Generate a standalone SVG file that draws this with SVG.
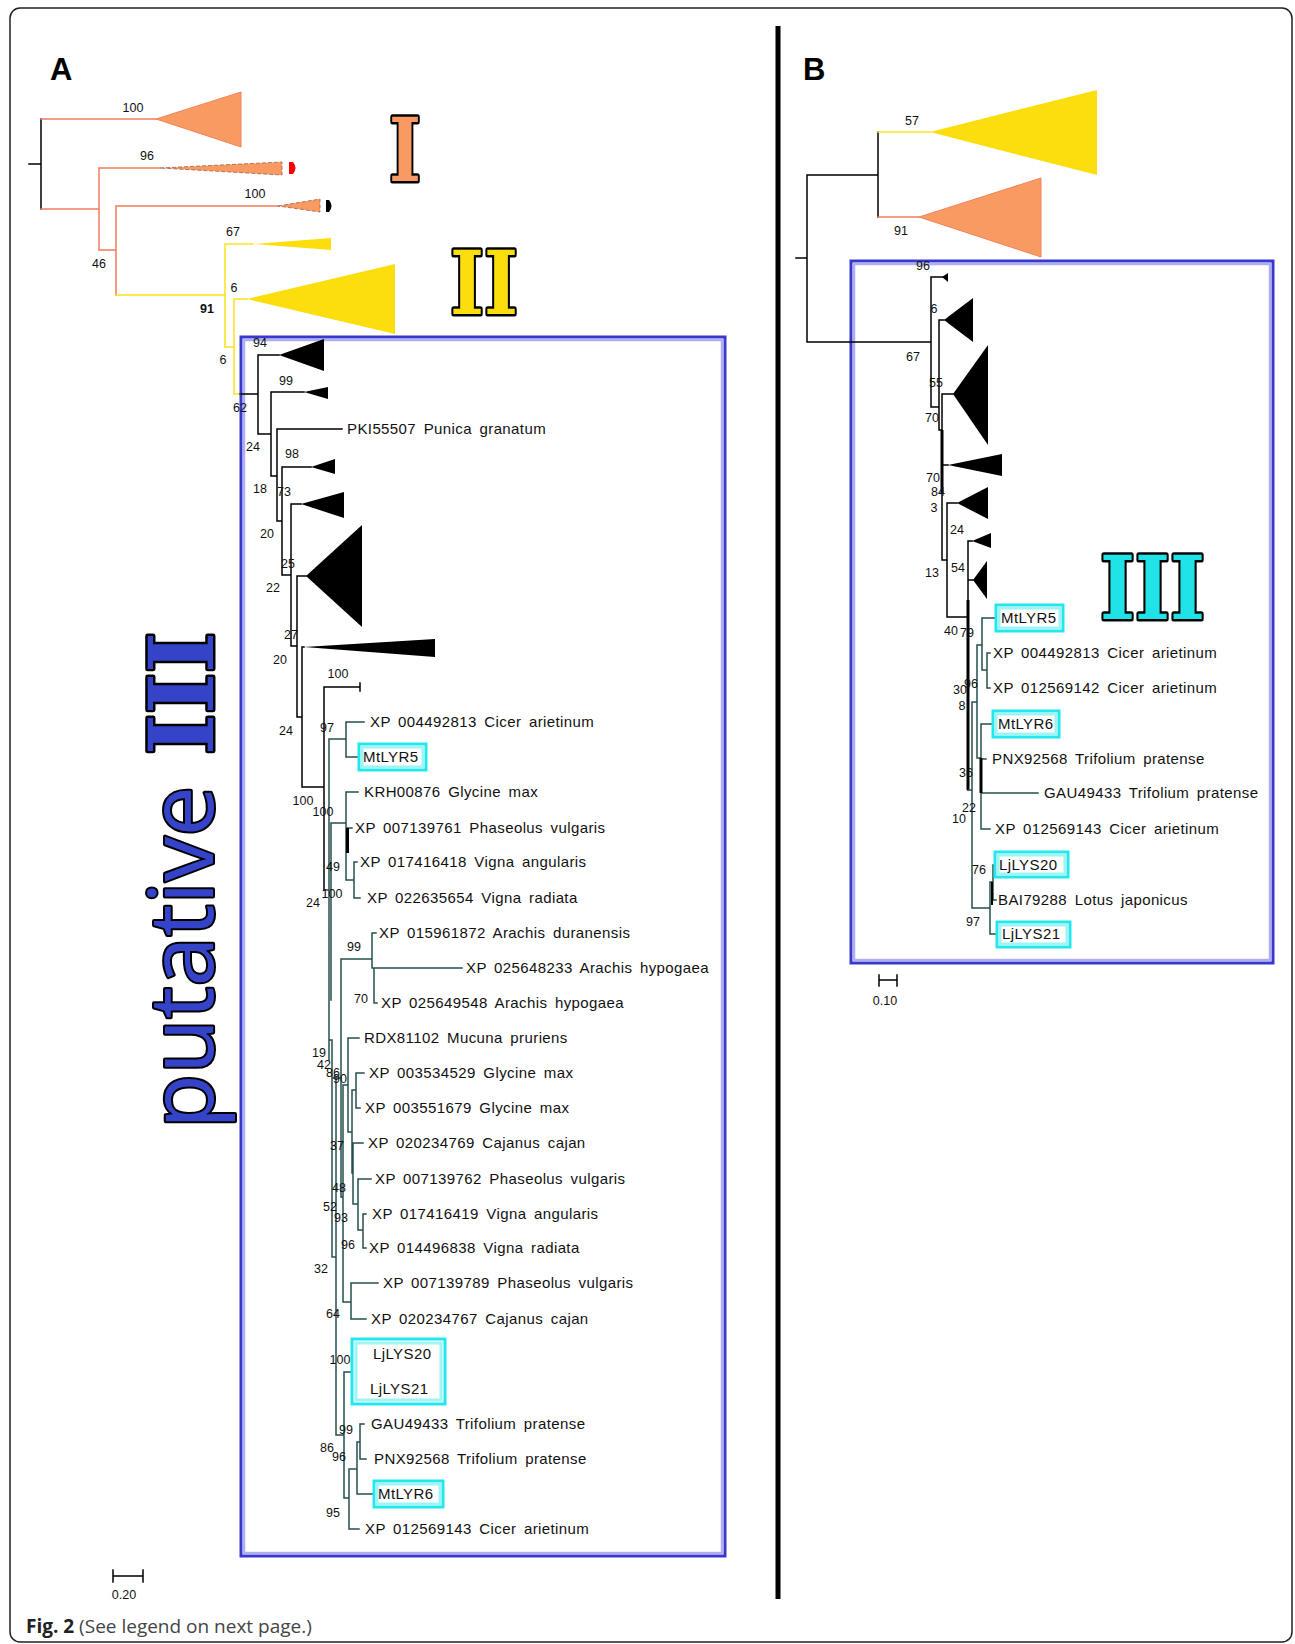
<svg xmlns="http://www.w3.org/2000/svg" width="1295" height="1644" viewBox="0 0 1295 1644">
<style>
.ln{fill:none;stroke:#000;stroke-width:1.5;stroke-linecap:square}
.tl{fill:none;stroke:#264f4f;stroke-width:1.5;stroke-linecap:square}
.or{fill:none;stroke:#f27b5c;stroke-width:1.5;stroke-linecap:square}
.ye{fill:none;stroke:#ffe11a;stroke-width:1.5;stroke-linecap:square}
.n{font-family:"Liberation Sans",Arial,sans-serif;font-size:12.5px;fill:#111;text-anchor:middle}
.tx{font-family:"Liberation Sans",Arial,sans-serif;font-size:15px;letter-spacing:0.4px;word-spacing:3px;fill:#111}
.bk{fill:#000}
.ot{fill:#f99a62;stroke:#f2845a;stroke-width:1}
.od{fill:#f99a62;stroke:#a0604a;stroke-width:0.8;stroke-dasharray:4 2}
.yt{fill:#fcde0f}
.cy{fill:#fff;stroke:#22e8ee;stroke-width:3}
.cyi{fill:none;stroke:#9ef4f6;stroke-width:3}
.big{font-family:"DejaVu Serif",serif;font-weight:bold;stroke:#000;stroke-width:5;stroke-linejoin:round;paint-order:stroke}
.lab{font-family:"Liberation Sans",Arial,sans-serif;font-weight:bold;font-size:31px;fill:#000}
</style>

<rect x="10" y="8" width="1282" height="1634" rx="10" fill="#fff" stroke="#222" stroke-width="1.5"/>
<line x1="778" y1="26" x2="778" y2="1599" stroke="#000" stroke-width="5"/>

<text class="lab" x="50" y="80">A</text>
<text class="lab" x="803" y="80">B</text>

<!-- Blue boxes -->
<g id="boxA">
<rect x="241" y="337" width="484" height="1219" fill="none" stroke="#3838cf" stroke-width="3"/>
<rect x="244" y="340" width="478" height="1213" fill="none" stroke="#aeaef0" stroke-width="2.5"/>
</g>
<g id="boxB">
<rect x="851" y="261" width="422" height="702" fill="none" stroke="#3838cf" stroke-width="3"/>
<rect x="854" y="264" width="416" height="696" fill="none" stroke="#aeaef0" stroke-width="2.5"/>
</g>

<!-- Group labels -->
<g id="labelI"><text class="big" x="389" y="181" font-size="88" fill="#f99a62" textLength="32" lengthAdjust="spacingAndGlyphs">I</text></g>
<g id="labelII"><text class="big" x="450" y="314" font-size="88" fill="#fcde0f" textLength="68" lengthAdjust="spacingAndGlyphs">II</text></g>
<g id="labelIII"><text class="big" x="1100" y="619" font-size="88" fill="#1fe3e6" textLength="105" lengthAdjust="spacingAndGlyphs">III</text></g>
<g id="labelPutative">
<text transform="translate(213,1129) rotate(-90)" x="0" y="0" font-family="'Open Sans','DejaVu Sans',sans-serif" font-size="90" fill="#3443c8" stroke="#000" stroke-width="4" stroke-linejoin="round" paint-order="stroke" textLength="343" lengthAdjust="spacingAndGlyphs">putative</text>
<text class="big" transform="translate(213,755) rotate(-90)" x="0" y="0" font-size="90" fill="#3443c8" textLength="123" lengthAdjust="spacingAndGlyphs">III</text>
</g>

<!-- Connectors -->
<g id="connectors">
<path class="ln" d="M29 164H41M41 119V209"/>
<path class="or" d="M41 119H156M41 209H99M99 168V250M99 168H160M99 250H116M116 206V295M116 206H278"/>
<path class="ye" d="M116 295H225M225 244V347M225 244H253M225 347H234M234 299V394M234 299H247M234 394H240"/>
<path class="ln" d="M240 394H258M258 355V434M258 355H279M258 434H271M271 392V476M271 392H304M271 476H277M277 429V521M277 429H342M277 521H282M282 467V575M282 467H311M282 575H291M291 504V646M291 504H301M291 646H297M297 576V717M297 576H306M297 717H302M302 647V787M302 647H304M302 787H324M324 687V890M324 687H360M360 683V691"/>
<path class="tl" d="M324 890H329M329 739V1060M329 739H346M346 722V757M346 722H364M346 757H358
M331 823V1000M331 823H346M346 792V880M346 792H358M346 828H352M346 880H354M354 862V898M354 862H357M354 898H360
M341 959V1197M341 959H372M372 933V968M372 933H376M372 968H374M374 968V1003M374 968H462M374 1003H377
M329 1040H332M332 1040V1257M332 1078H341M336 1077V1435M332 1257H336
M341 1197H343M343 1085V1302M343 1085H348M348 1038V1132M348 1038H359M348 1132H352M352 1090V1173M352 1090H356M356 1073V1108M356 1073H364M356 1108H360
M352 1173H353M353 1143V1204M353 1143H363M353 1204H358M358 1179V1230M358 1179H371M358 1230H363M363 1214V1248M363 1214H366M363 1248H366
M343 1302H351M351 1283V1319M351 1283H378M351 1319H366
M336 1435H344M344 1372V1498M344 1372H362M362 1354V1389M362 1354H365M362 1389H365
M344 1498H349M349 1469V1529M349 1529H359M349 1469H357M357 1442V1494M357 1494H373M357 1442H360M360 1424V1459M360 1424H364M360 1459H366"/>
<path d="M347.5 828V853" stroke="#000" stroke-width="3"/>

<!-- Panel B -->
<path class="ln" d="M796 258H807M807 175V342M807 175H878M878 132V217M807 342H931M931 277V407M931 277H943M931 407H939M939 320V430M939 320H944M939 430H942M942 394V560M942 394H953M942 465H948M942 560H947M947 503V617M947 503H957M947 617H968M968 541V790M968 541H972M968 580H973"/>
<path d="M942 430V493" stroke="#000" stroke-width="3"/>
<path d="M968 600V790" stroke="#000" stroke-width="3"/>
<path class="ye" d="M878 132H930"/>
<path class="or" d="M878 217H919"/>
<path class="tl" d="M968 790H972M972 702V908M972 702H977M977 645V758M977 645H982M982 618V670M982 618H996M982 670H987M987 653V688M987 653H990M987 688H990
M977 758H981M981 724V829M981 724H993M981 759H986M981 793H1038M981 829H990
M972 908H990M990 882V934M990 882H993M993 865V900M993 865H996M993 900H996M990 934H997"/>
<path d="M981 758V793" stroke="#000" stroke-width="3"/>
<path d="M992 882V905" stroke="#000" stroke-width="2"/>

<!-- scale bars -->
<path class="ln" d="M113 1576H143M113 1570V1582M143 1570V1582"/>
<path class="ln" d="M879 980H897M879 975V986M897 975V986"/>
</g>

<!-- Collapsed clades panel A -->
<g id="cladeA1"><polygon class="ot" points="156,119 241,92 241,147"/></g>
<g id="cladeA2"><polygon class="od" points="160,168 282,162 282,175"/><path d="M289 162H293Q298 168 293 174H289Z" fill="#ff0000"/></g>
<g id="cladeA3"><polygon class="od" points="278,206 320,199 320,212"/><path d="M326 200H329Q334 206 329 212H326Z" fill="#000"/></g>
<g id="cladeA4"><polygon class="yt" points="253,244 331,238 331,250"/></g>
<g id="cladeA5"><polygon class="yt" points="247,299 395,264 395,334"/></g>
<g id="cladeA6"><polygon class="bk" points="279,355 324,339 324,371"/></g>
<g id="cladeA7"><polygon class="bk" points="304,392 328,387 328,399"/></g>
<g id="cladeA8"><polygon class="bk" points="311,467 335,459 335,474"/></g>
<g id="cladeA9"><polygon class="bk" points="301,504 344,492 344,518"/></g>
<g id="cladeA10"><polygon class="bk" points="306,576 362,525 362,627"/></g>
<g id="cladeA11"><polygon class="bk" points="304,647 435,639 435,657"/></g>

<!-- Collapsed clades panel B -->
<g id="cladeB1"><polygon class="yt" points="930,132 1097,90 1097,175"/></g>
<g id="cladeB2"><polygon class="ot" points="919,217 1041,178 1041,257"/></g>
<g id="cladeB3"><polygon class="bk" points="942,277 948,273 948,282"/></g>
<g id="cladeB4"><polygon class="bk" points="944,320 973,298 973,342"/></g>
<g id="cladeB5"><polygon class="bk" points="953,394 988,345 988,445"/></g>
<g id="cladeB6"><polygon class="bk" points="948,465 1002,454 1002,476"/></g>
<g id="cladeB7"><polygon class="bk" points="957,503 988,487 988,519"/></g>
<g id="cladeB8"><polygon class="bk" points="972,541 991,533 991,548"/></g>
<g id="cladeB9"><polygon class="bk" points="973,580 987,561 987,599"/></g>

<!-- Support values A -->
<g id="supportA">
<text class="n" x="133" y="112">100</text>
<text class="n" x="147" y="160">96</text>
<text class="n" x="255" y="198">100</text>
<text class="n" x="99" y="268">46</text>
<text class="n" x="233" y="236">67</text>
<text class="n" x="234" y="292">6</text>
<text class="n" x="207" y="313" font-weight="bold">91</text>
<text class="n" x="223" y="364">6</text>
<text class="n" x="260" y="347">94</text>
<text class="n" x="286" y="385">99</text>
<text class="n" x="240" y="412">62</text>
<text class="n" x="253" y="451">24</text>
<text class="n" x="292" y="458">98</text>
<text class="n" x="260" y="493">18</text>
<text class="n" x="284" y="496">73</text>
<text class="n" x="267" y="538">20</text>
<text class="n" x="288" y="568">25</text>
<text class="n" x="273" y="592">22</text>
<text class="n" x="291" y="639">27</text>
<text class="n" x="280" y="664">20</text>
<text class="n" x="338" y="678">100</text>
<text class="n" x="286" y="735">24</text>
<text class="n" x="327" y="732">97</text>
<text class="n" x="303" y="805">100</text>
<text class="n" x="323" y="816">100</text>
<text class="n" x="333" y="871">49</text>
<text class="n" x="332" y="898">100</text>
<text class="n" x="313" y="907">24</text>
<text class="n" x="354" y="951">99</text>
<text class="n" x="361" y="1003">70</text>
<text class="n" x="319" y="1057">19</text>
<text class="n" x="324" y="1069">42</text>
<text class="n" x="333" y="1077">86</text>
<text class="n" x="340" y="1083">90</text>
<text class="n" x="337" y="1150">37</text>
<text class="n" x="339" y="1192">48</text>
<text class="n" x="330" y="1211">52</text>
<text class="n" x="341" y="1222">93</text>
<text class="n" x="348" y="1249">96</text>
<text class="n" x="321" y="1273">32</text>
<text class="n" x="333" y="1318">64</text>
<text class="n" x="340" y="1364">100</text>
<text class="n" x="346" y="1434">99</text>
<text class="n" x="327" y="1452">86</text>
<text class="n" x="339" y="1461">96</text>
<text class="n" x="333" y="1517">95</text>
<text class="n" x="124" y="1599" font-size="11.5">0.20</text>
</g>

<!-- Support values B -->
<g id="supportB">
<text class="n" x="912" y="125">57</text>
<text class="n" x="901" y="235">91</text>
<text class="n" x="913" y="361">67</text>
<text class="n" x="923" y="270">96</text>
<text class="n" x="934" y="313">6</text>
<text class="n" x="936" y="387">55</text>
<text class="n" x="932" y="422">70</text>
<text class="n" x="933" y="482">70</text>
<text class="n" x="938" y="496">84</text>
<text class="n" x="934" y="512">3</text>
<text class="n" x="957" y="534">24</text>
<text class="n" x="932" y="577">13</text>
<text class="n" x="958" y="572">54</text>
<text class="n" x="951" y="635">40</text>
<text class="n" x="967" y="637">79</text>
<text class="n" x="960" y="694">30</text>
<text class="n" x="971" y="688">96</text>
<text class="n" x="962" y="710">8</text>
<text class="n" x="966" y="777">36</text>
<text class="n" x="969" y="812">22</text>
<text class="n" x="959" y="823">10</text>
<text class="n" x="979" y="874">76</text>
<text class="n" x="973" y="926">97</text>
<text class="n" x="885" y="1005" font-size="11.5">0.10</text>
</g>

<!-- Taxa panel A -->
<g id="taxaA">
<g id="a-pki"><text class="tx" x="347" y="434">PKI55507 Punica granatum</text></g>
<g id="a-xp004492813"><text class="tx" x="370" y="727">XP 004492813 Cicer arietinum</text></g>
<g id="a-mtlyr5"><rect class="cy" x="359" y="744" width="67" height="26"/><rect class="cyi" x="362" y="747" width="61" height="20"/><text class="tx" x="363" y="762">MtLYR5</text></g>
<g id="a-krh"><text class="tx" x="364" y="797">KRH00876 Glycine max</text></g>
<g id="a-xp007139761"><text class="tx" x="355" y="833">XP 007139761 Phaseolus vulgaris</text></g>
<g id="a-xp017416418"><text class="tx" x="360" y="867">XP 017416418 Vigna angularis</text></g>
<g id="a-xp022635654"><text class="tx" x="367" y="903">XP 022635654 Vigna radiata</text></g>
<g id="a-xp015961872"><text class="tx" x="379" y="938">XP 015961872 Arachis duranensis</text></g>
<g id="a-xp025648233"><text class="tx" x="466" y="973">XP 025648233 Arachis hypogaea</text></g>
<g id="a-xp025649548"><text class="tx" x="381" y="1008">XP 025649548 Arachis hypogaea</text></g>
<g id="a-rdx"><text class="tx" x="364" y="1043">RDX81102 Mucuna pruriens</text></g>
<g id="a-xp003534529"><text class="tx" x="369" y="1078">XP 003534529 Glycine max</text></g>
<g id="a-xp003551679"><text class="tx" x="365" y="1113">XP 003551679 Glycine max</text></g>
<g id="a-xp020234769"><text class="tx" x="368" y="1148">XP 020234769 Cajanus cajan</text></g>
<g id="a-xp007139762"><text class="tx" x="375" y="1184">XP 007139762 Phaseolus vulgaris</text></g>
<g id="a-xp017416419"><text class="tx" x="372" y="1219">XP 017416419 Vigna angularis</text></g>
<g id="a-xp014496838"><text class="tx" x="369" y="1253">XP 014496838 Vigna radiata</text></g>
<g id="a-xp007139789"><text class="tx" x="383" y="1288">XP 007139789 Phaseolus vulgaris</text></g>
<g id="a-xp020234767"><text class="tx" x="371" y="1324">XP 020234767 Cajanus cajan</text></g>
<g id="a-ljlys"><rect class="cy" x="352" y="1339" width="93" height="65" stroke-width="4"/><rect class="cyi" x="356" y="1343" width="85" height="57" stroke-width="4"/><text class="tx" x="373" y="1359">LjLYS20</text><text class="tx" x="370" y="1394">LjLYS21</text></g>
<g id="a-gau"><text class="tx" x="371" y="1429">GAU49433 Trifolium pratense</text></g>
<g id="a-pnx"><text class="tx" x="374" y="1464">PNX92568 Trifolium pratense</text></g>
<g id="a-mtlyr6"><rect class="cy" x="374" y="1481" width="69" height="26"/><rect class="cyi" x="377" y="1484" width="63" height="20"/><text class="tx" x="378" y="1499">MtLYR6</text></g>
<g id="a-xp012569143"><text class="tx" x="365" y="1534">XP 012569143 Cicer arietinum</text></g>
</g>

<!-- Taxa panel B -->
<g id="taxaB">
<g id="b-mtlyr5"><rect class="cy" x="996" y="605" width="67" height="26"/><rect class="cyi" x="999" y="608" width="61" height="20"/><text class="tx" x="1001" y="623">MtLYR5</text></g>
<g id="b-xp004492813"><text class="tx" x="993" y="658">XP 004492813 Cicer arietinum</text></g>
<g id="b-xp012569142"><text class="tx" x="993" y="693">XP 012569142 Cicer arietinum</text></g>
<g id="b-mtlyr6"><rect class="cy" x="993" y="711" width="66" height="26"/><rect class="cyi" x="996" y="714" width="60" height="20"/><text class="tx" x="998" y="729">MtLYR6</text></g>
<g id="b-pnx"><text class="tx" x="992" y="764">PNX92568 Trifolium pratense</text></g>
<g id="b-gau"><text class="tx" x="1044" y="798">GAU49433 Trifolium pratense</text></g>
<g id="b-xp012569143"><text class="tx" x="995" y="834">XP 012569143 Cicer arietinum</text></g>
<g id="b-ljlys20"><rect class="cy" x="995" y="852" width="73" height="25"/><rect class="cyi" x="998" y="855" width="67" height="19"/><text class="tx" x="999" y="870">LjLYS20</text></g>
<g id="b-bai"><text class="tx" x="998" y="905">BAI79288 Lotus japonicus</text></g>
<g id="b-ljlys21"><rect class="cy" x="997" y="922" width="73" height="25"/><rect class="cyi" x="1000" y="925" width="67" height="19"/><text class="tx" x="1002" y="939">LjLYS21</text></g>
</g>

<text x="26" y="1633" font-family="'Open Sans','DejaVu Sans',sans-serif" font-size="19" fill="#444"><tspan font-weight="bold" fill="#222">Fig. 2</tspan> (See legend on next page.)</text>
</svg>
